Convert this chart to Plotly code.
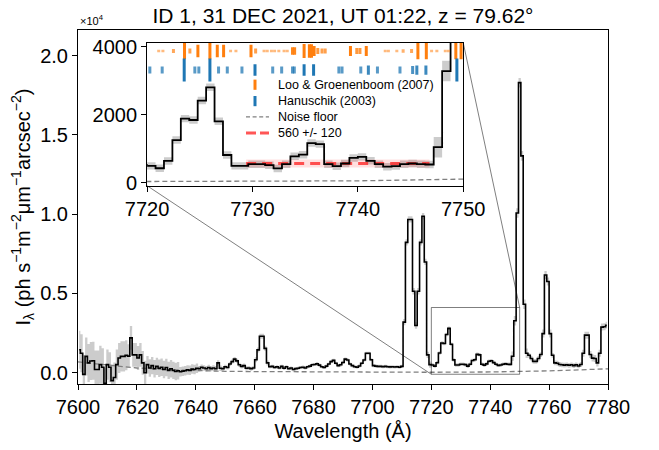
import plotly.graph_objects as go

# ---------------------------------------------------------------------------
# Night-sky spectrum, 0.8 A bins starting at 7600 A
# intensities in ph s^-1 m^-2 um^-1 arcsec^-2
# ---------------------------------------------------------------------------
WL_START = 7600.0
BIN_WIDTH = 0.8

flux = [
    1450, 1230, -100, 1030, 620, 740, 760, 200, 200, 510,
    350, -660, 510, 350, -500, -300, 510, 930, 1030, 1030,
    1100, 1050, 2200, 1130, 1130, 930, 1130, 620, 0, 510,
    300, 450, 250, 400, 280, 350, 200, 330, 150, 250,
    150, 80, 130, 60, 100, 130, 180, 150, 230, 200,
    280, 250, 350, 300, 250, 330, 260, 300, 250, 620,
    280, 250, 380, 330, 550, 700, 860, 750, 500, 400,
    450, 280, 300, 250, 300, 820, 1440, 2300, 2300, 1540,
    620, 380, 400, 330, 380, 300, 400, 280, 380, 250,
    300, 200, 260, 280, 330, 350, 300, 380, 420, 500,
    520, 570, 480, 380, 330, 420, 550, 700, 780, 600,
    450, 500, 650, 860, 800, 550, 450, 380, 350, 430,
    600, 800, 1230, 1230, 820, 450, 420, 400, 400, 380,
    400, 380, 370, 380, 360, 380, 350, 400, 3190, 8225,
    9670, 9670, 5140, 2980, 5140, 8225, 9870, 6990, 1130, 510,
    490, 420, 635, 1250, 1880, 1840, 2410, 2800, 1800, 810,
    490, 490, 540, 540, 510, 415, 540, 770, 820, 1160,
    1130, 540, 480, 560, 725, 755, 640, 540, 465, 485,
    540, 560, 540, 530, 1040, 3280, 10080, 18300, 13680, 4320,
    1230, 1100, 900, 720, 720, 900, 1150, 2470, 6170, 5760,
    2470, 1100, 620, 600, 520, 500, 480, 500, 470, 500,
    450, 500, 430, 520, 1230, 2370, 2370, 1150, 925, 900,
    620, 1230, 2880, 2900, 3000,
]

flux_err = [
    1200, 1200, 1200, 1200, 1200, 1200, 1200, 1200, 1200, 1200,
    1200, 950, 950, 950, 950, 950, 950, 950, 950, 950,
    950, 750, 750, 750, 750, 750, 750, 750, 750, 550,
    550, 550, 550, 550, 550, 550, 550, 550, 550, 550,
    550, 550, 550, 300, 300, 300, 300, 300, 300, 300,
    300, 170, 170, 170, 170, 170, 170, 170, 170, 170,
    170, 130, 130, 130, 130, 130, 130, 130, 130, 130,
    130, 130, 130, 130, 130, 160, 160, 160, 160, 160,
    160, 100, 100, 100, 100, 100, 100, 100, 100, 100,
    100, 100, 100, 100, 100, 100, 100, 100, 100, 100,
    100, 100, 100, 100, 100, 100, 100, 100, 100, 100,
    100, 100, 100, 100, 100, 100, 100, 100, 100, 100,
    100, 100, 100, 100, 100, 100, 100, 100, 100, 100,
    100, 100, 100, 100, 100, 100, 100, 100, 200, 200,
    200, 200, 200, 200, 200, 200, 200, 200, 200, 200,
    110, 110, 110, 110, 110, 110, 110, 110, 110, 110,
    110, 110, 110, 110, 110, 110, 110, 110, 110, 110,
    110, 110, 110, 110, 110, 110, 110, 110, 110, 110,
    110, 110, 110, 110, 300, 300, 300, 300, 300, 300,
    300, 150, 150, 150, 150, 150, 150, 250, 250, 250,
    250, 150, 150, 150, 150, 150, 150, 150, 150, 150,
    150, 150, 150, 150, 220, 220, 220, 220, 220, 220,
    220, 220, 220, 220, 220,
]

wavelength = [WL_START + BIN_WIDTH * (i + 0.5) for i in range(len(flux))]

# Noise floor estimate
noise_wl = [7600, 7610, 7620, 7630, 7640, 7650, 7660, 7680, 7700, 7720,
            7740, 7750, 7760, 7770, 7780]
noise_flux = [680, 470, 300, 200, 140, 90, 75, 55, 40, 30,
              50, 75, 120, 180, 250]

# Continuum level in the quiet window
quiet_level = 560
quiet_sigma = 120
quiet_wl = [7729.4, 7746.8]

# OH line catalogues: wavelength and relative strength
loo_wl = [7721.1, 7721.5, 7722.5, 7723.55, 7724.06, 7724.82, 7725.96, 7726.66,
          7727.26, 7727.92, 7728.43, 7729.86, 7730.3, 7731.1, 7731.4, 7731.8,
          7732.1, 7732.5, 7733.0, 7733.3, 7733.8, 7734.0, 7734.9, 7735.4,
          7735.6, 7735.85, 7736.2, 7736.6, 7736.9, 7739.3, 7739.9, 7740.2,
          7740.8, 7742.6, 7742.9, 7743.7, 7744.3, 7745.1, 7745.7, 7746.5,
          7747.0, 7747.5, 7748.3, 7748.6, 7749.3, 7749.8]
loo_strength = [0.15, 0.15, 0.25, 1.0, 0.3, 0.75, 1.0, 0.75,
                0.75, 0.15, 0.15, 0.75, 0.3, 0.15, 0.15, 0.15,
                0.15, 0.15, 0.15, 0.15, 0.45, 0.45, 0.85, 0.8,
                0.8, 0.6, 0.35, 0.3, 0.3, 0.6, 0.35, 0.35,
                0.6, 0.15, 0.15, 0.15, 0.2, 0.25, 1.0, 1.0,
                0.15, 0.15, 0.15, 0.15, 1.0, 1.0]

hanuschik_wl = [7720.26, 7721.43, 7723.52, 7724.53, 7724.91, 7725.96, 7726.78,
                7727.61, 7729.0, 7730.24, 7731.92, 7732.77, 7733.8, 7733.97,
                7734.9, 7735.8, 7738.2, 7738.5, 7740.28, 7741.0, 7741.86,
                7744.0, 7745.2, 7745.6, 7746.46, 7749.4]
hanuschik_strength = [0.3, 0.3, 1.0, 0.3, 0.3, 1.0, 0.3,
                      0.3, 0.3, 0.5, 0.3, 0.3, 0.3, 0.3,
                      0.5, 0.5, 0.3, 0.3, 0.3, 0.4, 0.3,
                      0.3, 0.35, 0.4, 0.4, 1.0]

legend_labels = ["Loo & Groenenboom (2007)", "Hanuschik (2003)", "Noise floor",
                 f"{quiet_level} +/- {quiet_sigma}"]

# ---------------------------------------------------------------------------
W, H = 659, 450
MARGIN = dict(l=78, r=51, t=30, b=59)
SCALE = 1e4                      # main panel is shown in units of 10^4
MAIN_X = [7600, 7780]
MAIN_Y = [-0.071, 2.162]
INSET_X = [7720, 7750]
INSET_Y = [-95, 4115]
INSET_DOM_X = [0.1304, 0.7268]
INSET_DOM_Y = [0.560, 0.9643]

ORANGE = "#ff7f0e"
BLUE = "#1f77b4"
RED = "rgba(255,30,30,0.75)"
GREY = "#808080"
BAND = "rgba(0,0,0,0.2)"
FONT = "Liberation Sans, Arial, sans-serif"

PLOT_W = W - MARGIN["l"] - MARGIN["r"]
PLOT_H = H - MARGIN["t"] - MARGIN["b"]


def px_to_paper(px, py):
    return (px - MARGIN["l"]) / PLOT_W, (H - MARGIN["b"] - py) / PLOT_H


upper = [f + e for f, e in zip(flux, flux_err)]
lower = [f - e for f, e in zip(flux, flux_err)]

fig = go.Figure()


def add_spectrum(xa, ya, scale):
    fig.add_trace(go.Scatter(
        x=wavelength, y=[v / scale for v in lower], xaxis=xa, yaxis=ya,
        mode="lines", line=dict(width=0, shape="hvh"),
        showlegend=False, hoverinfo="skip"))
    fig.add_trace(go.Scatter(
        x=wavelength, y=[v / scale for v in upper], xaxis=xa, yaxis=ya,
        mode="lines", line=dict(width=0, shape="hvh"),
        fill="tonexty", fillcolor=BAND, showlegend=False, hoverinfo="skip"))


# main panel
add_spectrum("x", "y", SCALE)
fig.add_trace(go.Scatter(
    x=noise_wl, y=[v / SCALE for v in noise_flux], xaxis="x", yaxis="y",
    mode="lines", line=dict(color=GREY, width=1.3, dash="5px,3px"),
    showlegend=False))
fig.add_trace(go.Scatter(
    x=wavelength, y=[v / SCALE for v in flux], xaxis="x", yaxis="y",
    mode="lines", line=dict(color="black", width=1.6, shape="hvh"),
    showlegend=False))

# inset panel
add_spectrum("x2", "y2", 1)
fig.add_trace(go.Scatter(
    x=noise_wl, y=noise_flux, xaxis="x2", yaxis="y2",
    mode="lines", line=dict(color=GREY, width=1.3, dash="5px,3px"),
    showlegend=False))
fig.add_trace(go.Scatter(
    x=quiet_wl, y=[quiet_level - quiet_sigma] * 2, xaxis="x2", yaxis="y2",
    mode="lines", line=dict(width=0), showlegend=False, hoverinfo="skip"))
fig.add_trace(go.Scatter(
    x=quiet_wl, y=[quiet_level + quiet_sigma] * 2, xaxis="x2", yaxis="y2",
    mode="lines", line=dict(width=0), fill="tonexty",
    fillcolor="rgba(255,0,0,0.12)", showlegend=False, hoverinfo="skip"))
fig.add_trace(go.Scatter(
    x=quiet_wl, y=[quiet_level] * 2, xaxis="x2", yaxis="y2",
    mode="lines", line=dict(color=RED, width=3, dash="10px,6px"),
    showlegend=False))
fig.add_trace(go.Scatter(
    x=wavelength, y=flux, xaxis="x2", yaxis="y2",
    mode="lines", line=dict(color="black", width=1.8, shape="hvh"),
    showlegend=False))


def add_marks(wls, strengths, row, half, rgb):
    for w, s in zip(wls, strengths):
        alpha = min(1.0, 0.35 + 1.3 * s)
        fig.add_trace(go.Scatter(
            x=[w, w], y=[row - half * s, row + half * s], xaxis="x2", yaxis="y2",
            mode="lines", line=dict(color=f"rgba({rgb},{alpha:.2f})", width=3),
            showlegend=False, hoverinfo="skip"))


add_marks(loo_wl, loo_strength, 3870, 245, "255,127,14")
add_marks(hanuschik_wl, hanuschik_strength, 3310, 340, "31,119,180")


# zoom indicator: rectangle on the main axes and connectors to the inset
def main_to_paper(x, y):
    return ((x - MAIN_X[0]) / (MAIN_X[1] - MAIN_X[0]),
            (y - MAIN_Y[0]) / (MAIN_Y[1] - MAIN_Y[0]))


rx0, ry0 = main_to_paper(INSET_X[0], INSET_Y[0] / SCALE)
rx1, ry1 = main_to_paper(INSET_X[1], INSET_Y[1] / SCALE)
guide = dict(color="rgba(0,0,0,0.5)", width=1)
shapes = [
    dict(type="rect", xref="x2 domain", yref="y2 domain", x0=0, x1=1, y0=0, y1=1,
         fillcolor="white", line=dict(width=0), layer="below"),
    dict(type="rect", xref="x", yref="y", x0=INSET_X[0], x1=INSET_X[1],
         y0=INSET_Y[0] / SCALE, y1=INSET_Y[1] / SCALE, line=guide, layer="above"),
    dict(type="line", xref="paper", yref="paper", x0=INSET_DOM_X[0], y0=INSET_DOM_Y[0],
         x1=rx0, y1=ry0, line=guide, layer="above"),
    dict(type="line", xref="paper", yref="paper", x0=INSET_DOM_X[1], y0=INSET_DOM_Y[1],
         x1=rx1, y1=ry1, line=guide, layer="above"),
]

# legend drawn inside the inset: symbol column and label column
annotations = []
LEG_ROWS = [85.8, 102.5, 118.5, 135.0]
SYM_X, TXT_X = 255, 276
legend_styles = [
    dict(kind="bar", color=ORANGE),
    dict(kind="bar", color=BLUE),
    dict(kind="dash", color=GREY, width=1.3, dash="4px,2.6px"),
    dict(kind="dash", color=RED, width=3, dash="10px,4px"),
]
for row_y, label, style in zip(LEG_ROWS, legend_labels, legend_styles):
    if style["kind"] == "bar":
        x0, y0 = px_to_paper(SYM_X, row_y + 5.2)
        x1, y1 = px_to_paper(SYM_X, row_y - 5.2)
        shapes.append(dict(type="line", xref="paper", yref="paper", x0=x0, y0=y0,
                           x1=x1, y1=y1, layer="above",
                           line=dict(color=style["color"], width=3)))
    else:
        x0, y0 = px_to_paper(SYM_X - 9, row_y)
        x1, y1 = px_to_paper(SYM_X + 14, row_y)
        shapes.append(dict(type="line", xref="paper", yref="paper", x0=x0, y0=y0,
                           x1=x1, y1=y1, layer="above",
                           line=dict(color=style["color"], width=style["width"],
                                     dash=style["dash"])))
    tx, ty = px_to_paper(TXT_X, row_y)
    annotations.append(dict(text=label, xref="paper", yref="paper", x=tx, y=ty,
                            xanchor="left", yanchor="middle", showarrow=False,
                            font=dict(size=12.5, color="black", family=FONT)))

annotations.append(dict(text="×10<sup>4</sup>", xref="paper", yref="paper", x=0, y=1,
                        xanchor="left", yanchor="bottom", yshift=1, showarrow=False,
                        font=dict(size=11, color="black", family=FONT)))

axis_common = dict(showgrid=False, zeroline=False, showline=True, linecolor="black",
                   linewidth=1, mirror=True, ticks="outside", ticklen=5, tickwidth=1,
                   tickcolor="black", tickfont=dict(size=20, color="black", family=FONT))

fig.update_layout(
    width=W, height=H,
    margin=MARGIN,
    showlegend=False,
    paper_bgcolor="white", plot_bgcolor="white",
    font=dict(family=FONT, color="black"),
    title=dict(text="ID 1, 31 DEC 2021, UT 01:22, z = 79.62°",
               font=dict(size=21, color="black", family=FONT),
               x=0.5, xref="paper", xanchor="center",
               y=1 - 15.5 / H, yref="container", yanchor="middle"),
    xaxis=dict(axis_common, range=MAIN_X, tickvals=list(range(7600, 7781, 20)),
               title=dict(text="Wavelength (Å)", font=dict(size=20, family=FONT),
                          standoff=6)),
    yaxis=dict(axis_common, range=MAIN_Y, tickvals=[0, 0.5, 1.0, 1.5, 2.0],
               tickformat=".1f",
               title=dict(text="I<sub>λ</sub> (ph s<sup>−1</sup>m<sup>−2</sup>μm<sup>−1</sup>"
                               "arcsec<sup>−2</sup>)",
                          font=dict(size=20, family=FONT), standoff=4)),
    xaxis2=dict(axis_common, domain=INSET_DOM_X, anchor="y2", range=INSET_X,
                tickvals=[7720, 7730, 7740, 7750]),
    yaxis2=dict(axis_common, domain=INSET_DOM_Y, anchor="x2", range=INSET_Y,
                tickvals=[0, 2000, 4000]),
    shapes=shapes,
    annotations=annotations,
)

fig.write_html("out.html")
